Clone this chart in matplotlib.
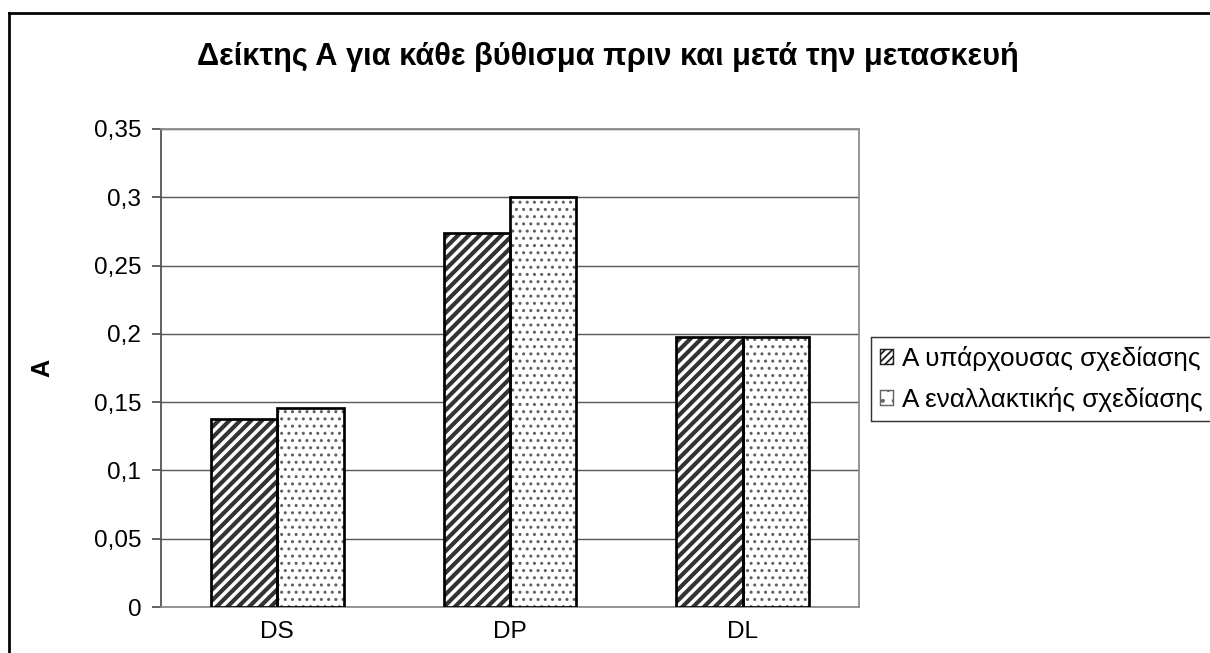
import matplotlib
matplotlib.use("Agg")
import matplotlib.pyplot as plt
import numpy as np
from matplotlib.lines import Line2D
from matplotlib.patches import Patch
from matplotlib.ticker import FuncFormatter

plt.rcParams['font.family'] = ['Liberation Sans', 'DejaVu Sans']

categories = ["DS", "DP", "DL"]
existing = [0.138, 0.274, 0.198]
alternative = [0.146, 0.300, 0.198]
series_names = ["Α υπάρχουσας σχεδίασης", "Α εναλλακτικής σχεδίασης"]
title = "Δείκτης Α για κάθε βύθισμα πριν και μετά την μετασκευή"
ylabel = "Α"
yticks = [0, 0.05, 0.1, 0.15, 0.2, 0.25, 0.3, 0.35]

DPI = 130
W, H = 1210, 653
fig = plt.figure(figsize=(W / DPI, H / DPI), dpi=DPI)
fig.patch.set_facecolor("white")

ax = fig.add_axes([161 / W, 1 - 607 / H, (859 - 161) / W, (607 - 129) / H])

x = np.arange(len(categories))
bw = 1 / 3.5


def set_hatch_lw(artists, lw):
    for p in artists:
        if hasattr(p, "set_hatch_linewidth"):
            p.set_hatch_linewidth(lw)


# patterned fills (hatch colour follows edge colour), then black outlines on top
plt.rcParams['hatch.linewidth'] = 2.3
b1 = ax.bar(x - bw / 2, existing, bw, color="white", edgecolor="#333333", hatch="////",
            linewidth=0, zorder=3)
set_hatch_lw(b1, 2.3)
plt.rcParams['hatch.linewidth'] = 0.9
b2 = ax.bar(x + bw / 2, alternative, bw, color="white", edgecolor="#606060", hatch="...",
            linewidth=0, zorder=3)
set_hatch_lw(b2, 0.9)
ax.bar(x - bw / 2, existing, bw, fill=False, edgecolor="black", linewidth=1.5, zorder=4)
ax.bar(x + bw / 2, alternative, bw, fill=False, edgecolor="black", linewidth=1.5, zorder=4)

ax.set_xlim(-0.5, 2.5)
ax.set_ylim(0, 0.35)
ax.set_yticks(yticks)
ax.yaxis.set_major_formatter(FuncFormatter(lambda v, p: f"{v:g}".replace(".", ",")))
ax.set_xticks(x)
ax.set_xticklabels(categories)
ax.tick_params(axis="x", length=0, pad=8, labelsize=13.5)
ax.tick_params(axis="y", length=5, width=1, color="#555555", pad=6, labelsize=13.5)
ax.yaxis.grid(True, color="#5a5a5a", linewidth=0.8, zorder=0)
ax.set_axisbelow(True)

for s in ["top", "right", "bottom"]:
    ax.spines[s].set_color("#8c8c8c")
    ax.spines[s].set_linewidth(1.0)
ax.spines["left"].set_color("#555555")
ax.spines["left"].set_linewidth(1.0)

ax.set_ylabel(ylabel, fontsize=14, fontweight="bold", labelpad=22)

fig.text(608 / W, 1 - 57 / H, title, ha="center", va="center",
         fontsize=17, fontweight="bold")

plt.rcParams['hatch.linewidth'] = 1.0
h1 = Patch(facecolor="white", edgecolor="#222222", hatch="//////", linewidth=0.8)
h2 = Patch(facecolor="white", edgecolor="#666666", hatch="..", linewidth=0.8)
leg = fig.legend([h1, h2], series_names, loc="upper left",
                 bbox_to_anchor=(871 / W, 1 - 337 / H), borderaxespad=0,
                 fontsize=14.5, frameon=True, fancybox=False, edgecolor="black",
                 handlelength=0.5, handleheight=0.5, handletextpad=0.35,
                 borderpad=0.35, labelspacing=0.6)
leg.get_frame().set_linewidth(0.8)

# outer chart border (visible on the top and left edges)
fig.add_artist(Line2D([9 / W, 1.0], [1 - 13 / H, 1 - 13 / H], color="black",
                      linewidth=1.5, transform=fig.transFigure))
fig.add_artist(Line2D([9 / W, 9 / W], [0, 1 - 13 / H], color="black",
                      linewidth=1.5, transform=fig.transFigure))

fig.savefig("out.png", dpi=DPI)
